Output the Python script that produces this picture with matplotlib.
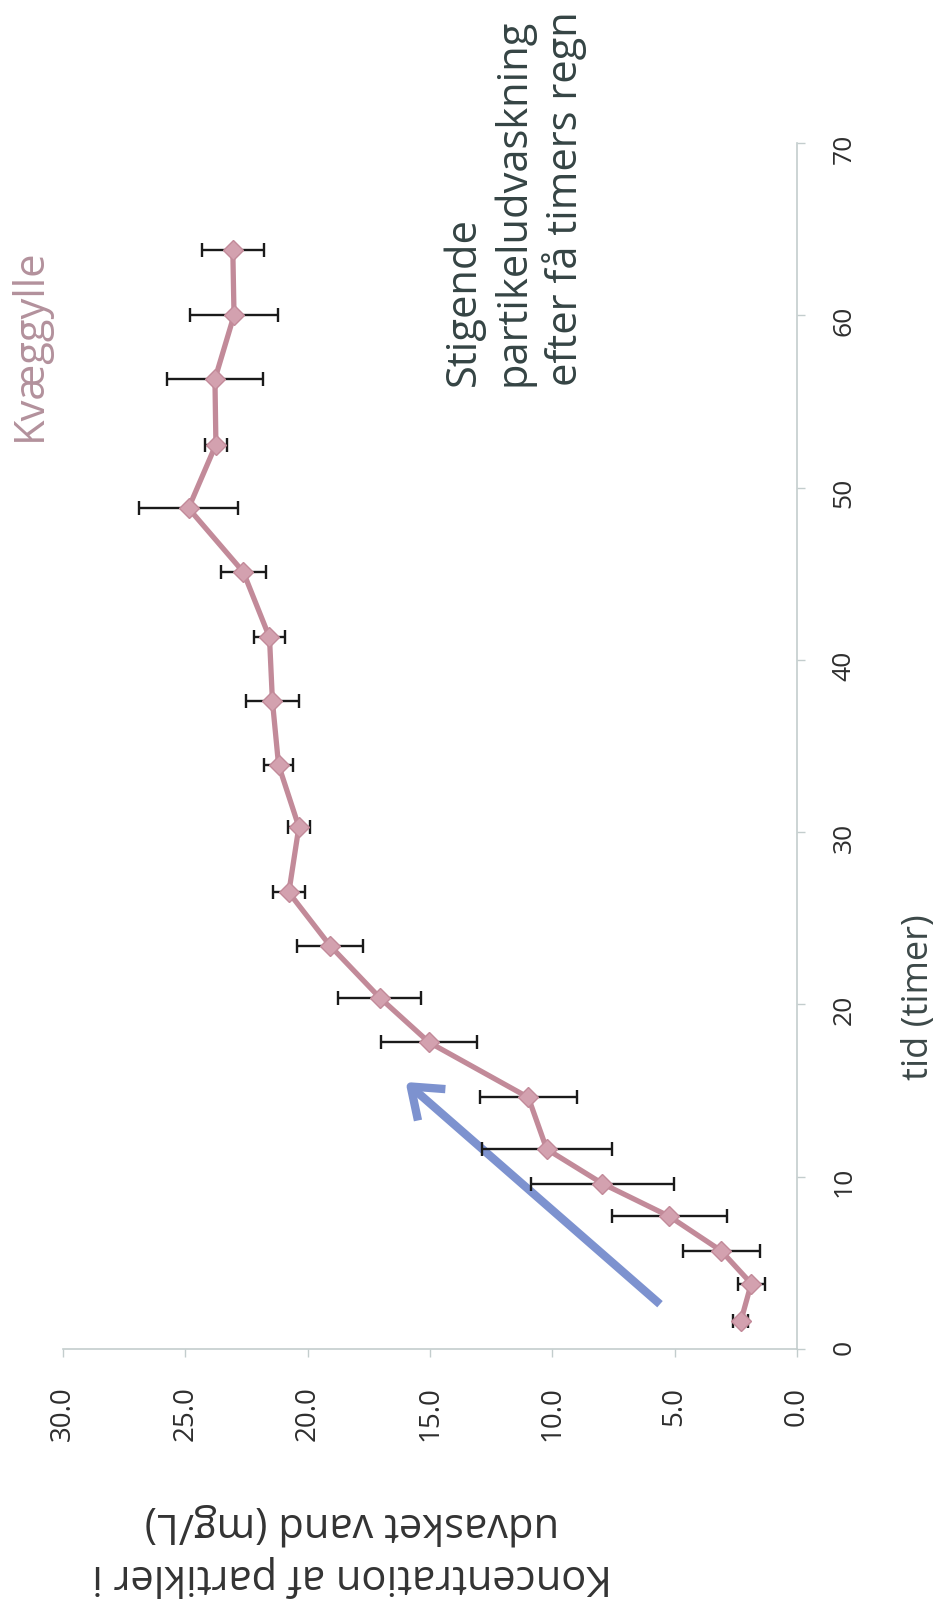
import matplotlib
matplotlib.use("Agg")
import matplotlib.pyplot as plt

plt.rcParams['font.family'] = ['Open Sans', 'DejaVu Sans']

# ---- data ----
tid_timer = [1.6, 3.8, 5.7, 7.7, 9.6, 11.6, 14.6, 17.8, 20.4, 23.4, 26.5,
             30.3, 33.9, 37.6, 41.3, 45.1, 48.8, 52.5, 56.3, 60.0, 63.8]
koncentration = [2.30, 1.87, 3.10, 5.22, 7.95, 10.23, 10.98, 15.04, 17.06, 19.08, 20.77,
                 20.36, 21.19, 21.44, 21.56, 22.63, 24.87, 23.75, 23.79, 23.01, 23.06]
fejl = [0.30, 0.55, 1.57, 2.35, 2.94, 2.66, 1.97, 1.97, 1.70, 1.36, 0.66,
        0.46, 0.59, 1.08, 0.63, 0.93, 2.02, 0.45, 1.96, 1.79, 1.27]

conc_ticks = [0, 5, 10, 15, 20, 25, 30]
conc_ticklabels = ["0.0", "5.0", "10.0", "15.0", "20.0", "25.0", "30.0"]
time_ticks = [0, 10, 20, 30, 40, 50, 60, 70]
time_ticklabels = ["0", "10", "20", "30", "40", "50", "60", "70"]

arrow_start = (5.6, 2.6)    # (koncentration, tid)
arrow_end = (16.0, 15.5)

title_text = "Kvæggylle"
note_text = "Stigende\npartikeludvaskning\nefter få timers regn"
xlabel_text = "Koncentration af partikler i\nudvasket vand (mg/L)"
ylabel_text = "tid (timer)"

# ---- figure ----
W, H = 943, 1616
fig = plt.figure(figsize=(W / 100, H / 100), dpi=100)
fig.patch.set_facecolor("white")

left, right, bottom, top = 63, 797, 1349, 143
ax = fig.add_axes([left / W, 1 - bottom / H, (right - left) / W, (bottom - top) / H])
ax.set_xlim(30, 0)
ax.set_ylim(0, 70)

for s in ("left", "top"):
    ax.spines[s].set_visible(False)
axis_col = "#c3cdcd"
for s in ("bottom", "right"):
    ax.spines[s].set_color(axis_col)
    ax.spines[s].set_linewidth(1.2)

ax.yaxis.tick_right()
ax.set_xticks(conc_ticks)
ax.set_xticklabels(conc_ticklabels, rotation=90)
ax.set_yticks(time_ticks)
ax.set_yticklabels(time_ticklabels, rotation=90)
ax.tick_params(axis="x", direction="out", length=6, width=1.0, color=axis_col,
               pad=21, labelsize=20, labelcolor="#2e2e2e")
ax.tick_params(axis="y", direction="out", length=6, width=1.0, color=axis_col,
               pad=19, labelsize=19, labelcolor="#2e2e2e")

# error bars
ax.errorbar(koncentration, tid_timer, xerr=fejl, fmt="none", ecolor="#1a1a1a",
            elinewidth=1.7, capsize=5, capthick=1.7, zorder=2)
# series line and markers
ax.plot(koncentration, tid_timer, color="#c28a99", linewidth=3.8, zorder=3,
        marker="D", markersize=10, markerfacecolor="#d3a1af",
        markeredgecolor="#c28a99", markeredgewidth=1.0, solid_capstyle="round")

# blue arrow
ax.annotate("", xy=arrow_end, xytext=arrow_start,
            arrowprops=dict(arrowstyle="->,head_length=0.8,head_width=0.6",
                            color="#7d92cf", lw=6, mutation_scale=25,
                            shrinkA=0, shrinkB=0, capstyle="butt"),
            zorder=1)

# texts
fig.text(30 / W, 1 - 345 / H, title_text, rotation=90, ha="center", va="center",
         fontsize=30, color="#b3919c")
fig.text(515 / W, 1 - 386 / H, note_text, rotation=90, ha="center", va="bottom",
         multialignment="left", fontsize=30, color="#354444", linespacing=1.22)
fig.text(919 / W, 1 - 997 / H, ylabel_text, rotation=90, ha="center", va="center",
         fontsize=26, color="#3c4848")
fig.text(352 / W, 1 - 1550 / H, xlabel_text, rotation=180, ha="center", va="center",
         multialignment="center", fontsize=30, color="#333333", linespacing=1.32)

fig.savefig("out.png", dpi=100, facecolor="white")
